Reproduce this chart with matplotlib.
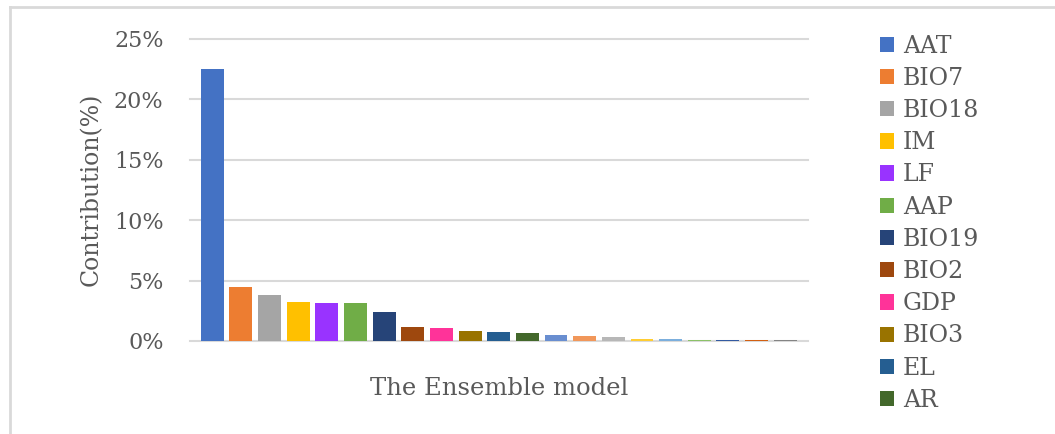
import matplotlib
matplotlib.use('Agg')
import matplotlib.pyplot as plt
from matplotlib.patches import Patch
from matplotlib.lines import Line2D

# 各变量对集成模型的贡献率(%)
variables = ['AAT', 'BIO7', 'BIO18', 'IM', 'LF', 'AAP', 'BIO19', 'BIO2', 'GDP', 'BIO3', 'EL', 'AR']
contribution = [22.5, 4.45, 3.8, 3.22, 3.15, 3.13, 2.37, 1.15, 1.05, 0.83, 0.75, 0.63,
                0.52, 0.41, 0.3, 0.19, 0.18, 0.11, 0.1, 0.09, 0.08]
colors = ['#4472C4', '#ED7D31', '#A5A5A5', '#FFC000', '#9933FF', '#70AD47', '#264478',
          '#9E480E', '#FF3399', '#997300', '#255E91', '#43682B', '#698ED0', '#F1975A',
          '#B7B7B7', '#FFCD33', '#7CAFDD', '#8CC168', '#335AA1', '#D26012', '#848484']
yticks = [0, 5, 10, 15, 20, 25]
group_name = 'The Ensemble model'

plt.rcParams['font.family'] = ['DejaVu Serif']
text_color = '#595959'
grid_color = '#D9D9D9'

fig = plt.figure(figsize=(10.55, 4.34), dpi=100)
ax = fig.add_axes([0.180, 0.2143, 0.586, 0.6967])

x = list(range(len(contribution)))
ax.bar(x, contribution, width=0.8, color=colors, linewidth=0, zorder=3)

ax.set_xlim(-0.78, 20.8)
ax.set_ylim(0, 25)
ax.set_yticks(yticks)
ax.set_yticklabels([f'{t}%' for t in yticks], color=text_color, fontsize=16)
ax.set_xticks([])
ax.tick_params(axis='y', length=0, pad=19)
for s in ax.spines.values():
    s.set_visible(False)
for t in yticks:
    ax.axhline(t, color=grid_color, lw=1.5, zorder=1, clip_on=False)

ax.set_ylabel('Contribution(%)', color=text_color, fontsize=17, labelpad=8)
ax.set_xlabel(group_name, color=text_color, fontsize=17.5, labelpad=26)

handles = [Patch(facecolor=c, edgecolor='none') for c in colors[:len(variables)]]
leg = fig.legend(handles, variables, loc='upper left', bbox_to_anchor=(0.825, 0.942),
                 frameon=False, fontsize=17, handlelength=0.62, handleheight=0.62,
                 handletextpad=0.35, labelspacing=0.39, borderaxespad=0)
for txt in leg.get_texts():
    txt.set_color(text_color)

# 外框（上边和左边）
fig.add_artist(Line2D([10 / 1055, 1.0], [1 - 7 / 434, 1 - 7 / 434], color=grid_color, lw=2))
fig.add_artist(Line2D([10 / 1055, 10 / 1055], [0, 1 - 7 / 434], color=grid_color, lw=2))

fig.savefig('out.png', dpi=100)
